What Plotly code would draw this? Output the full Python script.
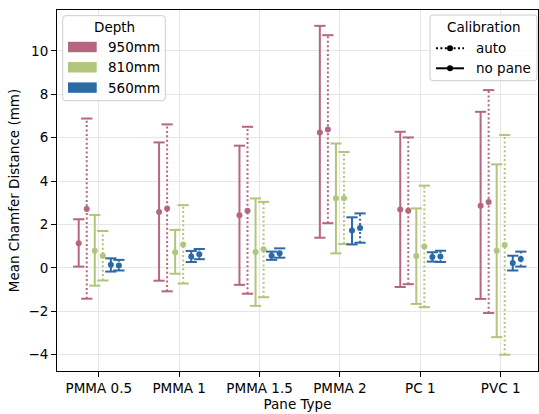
import plotly.graph_objects as go

categories = ["PMMA 0.5", "PMMA 1", "PMMA 1.5", "PMMA 2", "PC 1", "PVC 1"]
depths = ["950mm", "810mm", "560mm"]
calibrations = ["auto", "no pane"]
yticks = [-4, -2, 0, 2, 4, 6, 8, 10]

mean_950_nopane = [1.13, 2.58, 2.43, 6.24, 2.69, 2.86]
low_950_nopane = [0.06, -0.59, -0.78, 1.39, -0.88, -1.43]
high_950_nopane = [2.24, 5.78, 5.63, 11.15, 6.27, 7.19]

mean_950_auto = [2.71, 2.74, 2.63, 6.37, 2.63, 3.04]
low_950_auto = [-1.42, -1.08, -1.19, 2.06, -0.75, -2.08]
high_950_auto = [6.88, 6.61, 6.50, 10.72, 6.01, 8.19]

mean_810_nopane = [0.79, 0.72, 0.73, 3.21, 0.55, 0.79]
low_810_nopane = [-0.82, -0.27, -1.75, 0.67, -1.66, -3.19]
high_810_nopane = [2.44, 1.75, 3.20, 5.73, 2.74, 4.77]

mean_810_auto = [0.56, 1.08, 0.86, 3.21, 0.98, 1.05]
low_810_auto = [-0.58, -0.72, -1.35, 1.10, -1.81, -4.00]
high_810_auto = [1.70, 2.89, 3.04, 5.34, 3.79, 6.12]

mean_560_nopane = [0.14, 0.52, 0.56, 1.72, 0.50, 0.23]
low_560_nopane = [-0.17, 0.27, 0.37, 1.08, 0.29, -0.12]
high_560_nopane = [0.44, 0.78, 0.75, 2.33, 0.72, 0.56]

mean_560_auto = [0.11, 0.63, 0.67, 1.84, 0.53, 0.41]
low_560_auto = [-0.12, 0.40, 0.47, 1.16, 0.27, 0.06]
high_560_auto = [0.37, 0.87, 0.90, 2.51, 0.79, 0.75]

colors = {"950mm": "#b4677f", "810mm": "#b1c67a", "560mm": "#2d69a4"}

series = [
    ("950mm", "no pane", mean_950_nopane, low_950_nopane, high_950_nopane, -0.25),
    ("950mm", "auto", mean_950_auto, low_950_auto, high_950_auto, -0.15),
    ("810mm", "no pane", mean_810_nopane, low_810_nopane, high_810_nopane, -0.05),
    ("810mm", "auto", mean_810_auto, low_810_auto, high_810_auto, 0.05),
    ("560mm", "no pane", mean_560_nopane, low_560_nopane, high_560_nopane, 0.15),
    ("560mm", "auto", mean_560_auto, low_560_auto, high_560_auto, 0.25),
]

FONT = "DejaVu Sans"
FS = 13.5
W, H = 539, 414
ML, MR, MT, MB = 57, 1, 10, 43
PW, PH = W - ML - MR, H - MT - MB

fig = go.Figure()

for depth, calib, means, lows, highs, off in series:
    col = colors[depth]
    xs = [i + off for i in range(len(categories))]
    lx, ly = [], []
    for x, lo, hi in zip(xs, lows, highs):
        lx += [x, x, None]
        ly += [lo, hi, None]
    dash = "2px,2.4px" if calib == "auto" else "solid"
    fig.add_trace(go.Scatter(x=lx, y=ly, mode="lines",
                             line=dict(color=col, width=2, dash=dash),
                             showlegend=False, hoverinfo="skip"))
    fig.add_trace(go.Scatter(x=xs + xs, y=list(lows) + list(highs), mode="markers",
                             marker=dict(symbol="line-ew", size=8,
                                         line=dict(color=col, width=2)),
                             showlegend=False, hoverinfo="skip"))
    fig.add_trace(go.Scatter(x=xs, y=means, mode="markers",
                             marker=dict(symbol="circle", size=6, color=col),
                             name=f"{depth} {calib}", showlegend=False))


def px_x(p):
    return (p - ML) / PW


def px_y(p):
    return (H - MB - p) / PH


def rounded_box(x0, y0, x1, y1, r=3):
    X0, X1 = px_x(x0), px_x(x1)
    Y0, Y1 = px_y(y0), px_y(y1)
    rx, ry = r / PW, r / PH
    path = (f"M{X0+rx},{Y0} L{X1-rx},{Y0} Q{X1},{Y0} {X1},{Y0-ry} "
            f"L{X1},{Y1+ry} Q{X1},{Y1} {X1-rx},{Y1} L{X0+rx},{Y1} "
            f"Q{X0},{Y1} {X0},{Y1+ry} L{X0},{Y0-ry} Q{X0},{Y0} {X0+rx},{Y0} Z")
    return dict(type="path", path=path, xref="paper", yref="paper",
                fillcolor="rgba(255,255,255,0.8)",
                line=dict(color="#cccccc", width=1), layer="above")


shapes = []
annotations = []

# Depth legend
shapes.append(rounded_box(62.7, 15.7, 165.3, 100.7))
annotations.append(dict(x=px_x(114), y=px_y(27), xref="paper", yref="paper",
                        text="Depth", showarrow=False, xanchor="center", yanchor="middle",
                        font=dict(family=FONT, size=FS, color="black")))
for k, d in enumerate(depths):
    cy = 47 + k * 20.3
    shapes.append(dict(type="rect", xref="paper", yref="paper",
                       x0=px_x(68), x1=px_x(96.7), y0=px_y(cy - 5.2), y1=px_y(cy + 5.2),
                       fillcolor=colors[d], line=dict(width=0), layer="above"))
    annotations.append(dict(x=px_x(105.5), y=px_y(cy), xref="paper", yref="paper",
                            text=d, showarrow=False, xanchor="left", yanchor="middle",
                            font=dict(family=FONT, size=FS, color="black")))

# Calibration legend
shapes.append(rounded_box(430, 15, 537, 80.7))
annotations.append(dict(x=px_x(483.5), y=px_y(27.5), xref="paper", yref="paper",
                        text="Calibration", showarrow=False, xanchor="center", yanchor="middle",
                        font=dict(family=FONT, size=FS, color="black")))
for k, c in enumerate(calibrations):
    cy = 48.3 + k * 20
    shapes.append(dict(type="line", xref="paper", yref="paper",
                       x0=px_x(436), x1=px_x(464), y0=px_y(cy), y1=px_y(cy),
                       line=dict(color="black", width=2,
                                 dash="2px,2.4px" if c == "auto" else "solid"),
                       layer="above"))
    shapes.append(dict(type="circle", xref="paper", yref="paper",
                       x0=px_x(447), x1=px_x(453), y0=px_y(cy - 3), y1=px_y(cy + 3),
                       fillcolor="black", line=dict(width=0), layer="above"))
    annotations.append(dict(x=px_x(474), y=px_y(cy), xref="paper", yref="paper",
                            text=c, showarrow=False, xanchor="left", yanchor="middle",
                            font=dict(family=FONT, size=FS, color="black")))

axis_common = dict(showline=True, linecolor="black", linewidth=1, mirror=True,
                   ticks="outside", ticklen=5, tickwidth=1, tickcolor="black",
                   showgrid=True, gridcolor="#e6e6e6", gridwidth=1, zeroline=False,
                   tickfont=dict(family=FONT, size=FS, color="black"))

fig.update_layout(
    width=W, height=H,
    margin=dict(l=ML, r=MR, t=MT, b=MB),
    paper_bgcolor="white", plot_bgcolor="white",
    font=dict(family=FONT, size=FS, color="black"),
    showlegend=False,
    shapes=shapes, annotations=annotations,
    xaxis=dict(axis_common, range=[-0.52, 5.464],
               tickvals=list(range(len(categories))), ticktext=categories,
               title=dict(text="Pane Type", font=dict(family=FONT, size=FS, color="black"),
                          standoff=3)),
    yaxis=dict(axis_common, range=[-4.75, 11.88], tickvals=yticks,
               ticktext=[str(v).replace("-", "\u2212") for v in yticks],
               title=dict(text="Mean Chamfer Distance (mm)",
                          font=dict(family=FONT, size=FS, color="black"), standoff=5)),
)

fig.write_html("out.html",
               config={"displayModeBar": False},
               post_script="document.body.style.margin='0';document.body.style.padding='0';"
                           "document.body.style.overflow='hidden';")
